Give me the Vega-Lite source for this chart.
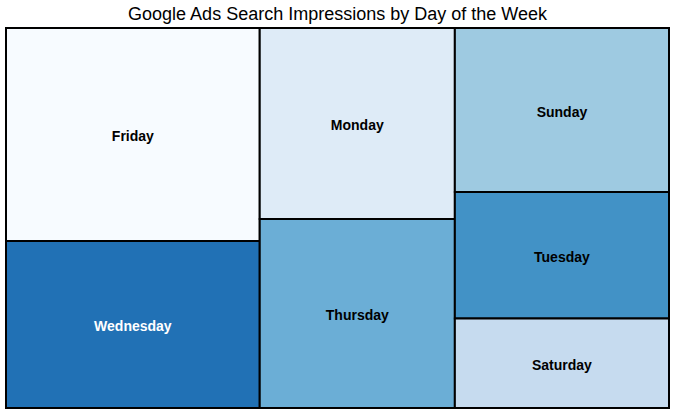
{
  "$schema": "https://vega.github.io/schema/vega-lite/v6.json",
  "width": 663,
  "height": 380,
  "autosize": {"type": "none"},
  "padding": {"left": 6, "top": 28, "right": 7, "bottom": 10},
  "background": "white",
  "title": {
    "text": "Google Ads Search Impressions by Day of the Week",
    "font": "Liberation Sans",
    "fontSize": 18,
    "fontWeight": "normal",
    "color": "black",
    "anchor": "middle",
    "offset": 3
  },
  "config": {"view": {"stroke": null}},
  "data": {
    "values": [
      {"day": "Friday", "impressions": 21450, "group": 1},
      {"day": "Wednesday", "impressions": 16820, "group": 1},
      {"day": "Monday", "impressions": 14790, "group": 2},
      {"day": "Thursday", "impressions": 14640, "group": 2},
      {"day": "Sunday", "impressions": 13940, "group": 3},
      {"day": "Tuesday", "impressions": 10750, "group": 3},
      {"day": "Saturday", "impressions": 7610, "group": 3}
    ]
  },
  "transform": [
    {"joinaggregate": [{"op": "sum", "field": "impressions", "as": "total"}]},
    {"joinaggregate": [{"op": "sum", "field": "impressions", "as": "colsum"}], "groupby": ["group"]},
    {"stack": "impressions", "groupby": ["group"], "sort": [{"field": "impressions", "order": "descending"}], "as": ["s0", "s1"]},
    {"window": [{"op": "sum", "field": "impressions", "as": "cum"}], "sort": [{"field": "group", "order": "ascending"}], "ignorePeers": false},
    {"calculate": "(datum.cum - datum.colsum) / datum.total", "as": "xa"},
    {"calculate": "datum.cum / datum.total", "as": "xb"},
    {"calculate": "datum.s0 / datum.colsum", "as": "ya"},
    {"calculate": "datum.s1 / datum.colsum", "as": "yb"},
    {"calculate": "(datum.xa + datum.xb) / 2", "as": "xc"},
    {"calculate": "(datum.ya + datum.yb) / 2", "as": "yc"}
  ],
  "layer": [
    {
      "mark": {"type": "rect", "stroke": "black", "strokeWidth": 2},
      "encoding": {
        "x": {"field": "xa", "type": "quantitative", "scale": {"domain": [0, 1], "nice": false, "zero": false}, "axis": null},
        "x2": {"field": "xb"},
        "y": {"field": "ya", "type": "quantitative", "scale": {"domain": [0, 1], "nice": false, "zero": false, "reverse": true}, "axis": null},
        "y2": {"field": "yb"},
        "color": {
          "field": "day",
          "type": "nominal",
          "scale": {
            "domain": ["Friday", "Monday", "Saturday", "Sunday", "Thursday", "Tuesday", "Wednesday"],
            "range": ["#f7fbff", "#deebf7", "#c6dbef", "#9ecae1", "#6baed6", "#4292c6", "#2171b5"]
          },
          "legend": null
        }
      }
    },
    {
      "mark": {"type": "text", "font": "Liberation Sans", "fontSize": 14, "fontWeight": "bold", "align": "center", "baseline": "middle", "dy": 3},
      "encoding": {
        "x": {"field": "xc", "type": "quantitative"},
        "y": {"field": "yc", "type": "quantitative"},
        "text": {"field": "day", "type": "nominal"},
        "color": {"condition": {"test": "datum.day === 'Wednesday'", "value": "white"}, "value": "black"}
      }
    }
  ]
}
